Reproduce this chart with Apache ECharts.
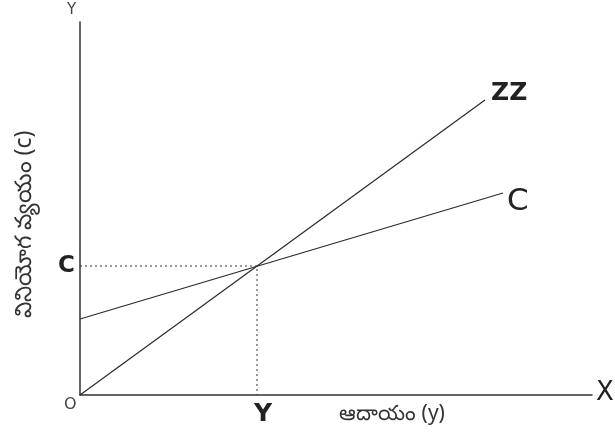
<!DOCTYPE html>
<html>
<head>
<meta charset="utf-8">
<script src="https://cdn.jsdelivr.net/npm/echarts@6/dist/echarts.min.js"></script>
<style>html,body{margin:0;padding:0;background:#fff;}#c{width:615px;height:437px;}</style>
</head>
<body>
<div id="c"></div>
<script>
// Data (in chart units)
const xRange = [0, 512];
const yRange = [0, 373];
const zzLine = [[0, 0], [405, 295]];
const cLine = [[0, 76], [423, 202]];
const equilibrium = [177, 129];
const xTickLabel = 'Y';
const yTickLabel = 'C';
const xTitle = 'ఆదాయం (y)';
const yTitle = 'వినియోగ వ్యయం (c)';

const chart = echarts.init(document.getElementById('c'), null, {renderer: 'canvas'});
const dotted = [[0, equilibrium[1]], [equilibrium[0], equilibrium[1]], [equilibrium[0], 0]];
const lineCol = '#2a2a2a';
chart.setOption({
  backgroundColor: '#fff',
  animation: false,
  grid: {left: 80, right: 23, top: 22, bottom: 42, containLabel: false, outerBoundsMode: 'none'},
  xAxis: {
    type: 'value', min: xRange[0], max: xRange[1],
    axisLine: {show: true, onZero: false, lineStyle: {color: '#333', width: 1.5}},
    axisTick: {show: false},
    splitLine: {show: false},
    axisLabel: {
      show: true, customValues: [equilibrium[0]], formatter: () => xTickLabel,
      margin: 7, fontSize: 25, fontWeight: 'bold', color: '#222', fontFamily: 'DejaVu Sans',
      padding: [0, 0, 0, 12]
    },
    name: xTitle, nameLocation: 'middle', nameGap: 9, nameMoveOverlap: false,
    nameTextStyle: {fontSize: 21, color: '#333', fontFamily: 'Noto Sans, DejaVu Sans', padding: [0, 0, 0, 112], verticalAlign: 'top'}
  },
  yAxis: {
    type: 'value', min: yRange[0], max: yRange[1],
    axisLine: {show: true, onZero: false, lineStyle: {color: '#333', width: 1.5}},
    axisTick: {show: false},
    splitLine: {show: false},
    axisLabel: {
      show: true, customValues: [equilibrium[1]], formatter: () => yTickLabel,
      margin: 5, fontSize: 23, fontWeight: 'bold', color: '#222', fontFamily: 'DejaVu Sans'
    },
    name: yTitle, nameLocation: 'middle', nameGap: 44, nameRotate: 90, nameMoveOverlap: false,
    nameTextStyle: {fontSize: 23, color: '#333', fontFamily: 'Noto Sans, DejaVu Sans', padding: [0, 32, 0, 0]}
  },
  series: [
    {
      name: 'ZZ', type: 'line', data: zzLine, symbol: 'none', silent: true,
      lineStyle: {color: lineCol, width: 1.2},
      endLabel: {show: true, formatter: 'ZZ', fontSize: 25, fontWeight: 'bold', color: '#222',
        fontFamily: 'DejaVu Sans', distance: 6, offset: [0, -7]}
    },
    {
      name: 'C', type: 'line', data: cLine, symbol: 'none', silent: true,
      lineStyle: {color: lineCol, width: 1.2},
      endLabel: {show: true, formatter: 'C', fontSize: 31, color: '#222',
        fontFamily: 'DejaVu Sans', distance: 4, offset: [0, 9]}
    },
    {
      name: 'guide', type: 'line', data: dotted, symbol: 'none', silent: true,
      lineStyle: {color: '#333', width: 1, type: [2, 3]}
    }
  ],
  graphic: [
    {type: 'text', left: 67, top: 3, style: {text: 'Y', fontSize: 15, fill: '#444', fontFamily: 'DejaVu Sans'}},
    {type: 'text', left: 64, top: 397, style: {text: 'O', fontSize: 16, fill: '#444', fontFamily: 'DejaVu Sans'}},
    {type: 'text', left: 596, top: 380, style: {text: 'X', fontSize: 26, fill: '#222', fontFamily: 'DejaVu Sans'}}
  ]
});
</script>
</body>
</html>
